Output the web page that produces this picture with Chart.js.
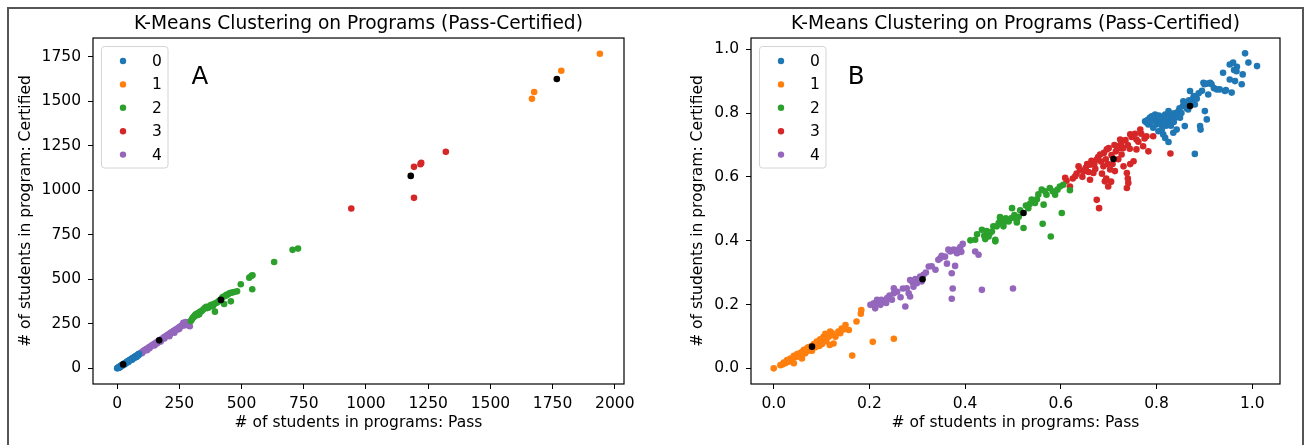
<!DOCTYPE html>
<html>
<head>
<meta charset="utf-8">
<script src="https://cdn.jsdelivr.net/npm/chart.js@4.4.1/dist/chart.umd.min.js"></script>
<style>
  html, body { margin: 0; padding: 0; background: #fff; }
  #page { position: relative; width: 1309px; height: 445px; overflow: hidden; }
  #chartA { position: absolute; left: 0; top: 0; }
  #chartB { position: absolute; left: 655px; top: 0; }
  #frame { position: absolute; left: 7px; top: 7px; width: 1297px; height: 470px;
           border: 2px solid #555; box-sizing: border-box; }
</style>
</head>
<body>
<div id="page">
  <canvas id="chartA" width="655" height="445"></canvas>
  <canvas id="chartB" width="654" height="445"></canvas>
  <div id="frame"></div>
</div>

<script>
const CLUSTERS = ['0', '1', '2', '3', '4'];
const COLORS = ['#1f77b4', '#ff7f0e', '#2ca02c', '#d62728', '#9467bd'];
const TITLE = 'K-Means Clustering on Programs (Pass-Certified)';
const X_LABEL = '# of students in programs: Pass';
const Y_LABEL = '# of students in program: Certified';

const aXTicks = [0, 250, 500, 750, 1000, 1250, 1500, 1750, 2000];
const aYTicks = [0, 250, 500, 750, 1000, 1250, 1500, 1750];
const bTicks = [0, 0.2, 0.4, 0.6, 0.8, 1.0];

// Panel A - raw counts [pass, certified]
const a0 = [[0,0],[2,1],[4,3],[5,5],[7,6],[9,8],[10,4],[11,10],[12,7],[13,11],[15,14],[17,15],[19,17],[20,15],[21,19],
  [24,21],[26,24],[28,25],[30,22],[31,28],[33,30],[35,29],[36,33],[38,34],[41,38],[44,40],[45,35],[46,42],[47,40],
  [49,45],[52,47],[55,50],[56,48],[58,52],[60,48],[61,56],[64,58],[66,57],[67,61],[70,64],[70,60],[73,66],[75,65],
  [76,69],[78,64],[80,73],[84,77],[85,72],[88,81]];
const a1 = [[1940,1766],[1785,1670],[1676,1551],[1667,1513]];
const a2 = [[296,266],[300,274],[303,281],[306,287],[309,290],[312,296],[315,300],[318,304],[321,298],[324,308],
  [327,312],[330,303],[334,318],[340,322],[346,330],[352,338],[358,345],[362,338],[368,342],[374,352],[379,356],
  [385,350],[390,362],[393,318],[398,366],[404,372],[410,379],[416,386],[422,396],[426,402],[430,361],[436,408],
  [440,412],[446,416],[453,423],[457,376],[462,425],[470,428],[482,432],[497,472],[531,509],[540,520],[544,522],
  [543,444],[631,597],[705,665],[727,672]];
const a3 = [[941,897],[1193,1131],[1219,1146],[1222,1153],[1193,957],[1321,1215]];
const a4 = [[90,82],[95,86],[100,92],[100,85],[104,95],[108,100],[112,102],[116,107],[120,110],[120,102],[124,112],
  [128,118],[130,112],[132,121],[136,124],[140,129],[144,131],[148,136],[150,128],[152,139],[156,142],[160,148],
  [160,140],[164,150],[168,155],[172,157],[175,150],[176,162],[180,165],[184,168],[188,174],[190,168],[192,176],
  [196,181],[200,184],[204,187],[208,192],[210,186],[210,180],[212,195],[216,199],[220,203],[224,206],[228,211],
  [230,200],[232,213],[236,218],[240,221],[244,225],[245,218],[248,229],[250,222],[252,233],[256,236],[260,241],
  [264,244],[266,256],[268,250],[270,240],[272,255],[276,260],[280,258],[284,250],[288,242],[292,236]];
const aCentroids = [[24,22],[1767,1624],[417,384],[1180,1080],[169,157]];

// Panel B - normalised values
const b0 = [[0.776,0.774],[0.779,0.770],[0.781,0.778],[0.783,0.764],[0.786,0.785],[0.788,0.772],[0.790,0.790],
  [0.793,0.754],[0.795,0.778],[0.797,0.795],[0.798,0.785],[0.800,0.764],[0.802,0.775],[0.804,0.743],[0.805,0.792],
  [0.807,0.780],[0.809,0.766],[0.811,0.748],[0.812,0.784],[0.814,0.733],[0.815,0.770],[0.818,0.722],[0.818,0.795],
  [0.820,0.760],[0.821,0.790],[0.823,0.778],[0.825,0.806],[0.825,0.709],[0.826,0.790],[0.828,0.769],[0.830,0.760],
  [0.832,0.774],[0.833,0.798],[0.835,0.738],[0.836,0.772],[0.839,0.785],[0.840,0.800],[0.842,0.748],[0.844,0.790],
  [0.846,0.806],[0.848,0.815],[0.849,0.785],[0.852,0.800],[0.855,0.822],[0.856,0.837],[0.859,0.759],[0.860,0.830],
  [0.863,0.815],[0.866,0.811],[0.868,0.840],[0.870,0.869],[0.874,0.835],[0.877,0.848],[0.878,0.853],[0.880,0.672],
  [0.880,0.827],[0.884,0.845],[0.888,0.862],[0.891,0.759],[0.892,0.748],[0.895,0.870],[0.898,0.895],[0.900,0.890],
  [0.901,0.806],[0.905,0.780],[0.905,0.892],[0.908,0.858],[0.912,0.895],[0.915,0.890],[0.920,0.878],[0.926,0.874],
  [0.932,0.874],[0.939,0.926],[0.943,0.869],[0.945,0.872],[0.953,0.905],[0.953,0.952],[0.957,0.864],[0.960,0.958],
  [0.962,0.935],[0.964,0.900],[0.967,0.931],[0.968,0.945],[0.978,0.890],[0.980,0.921],[0.985,0.987],[0.992,0.958],
  [1.010,0.947]];
const b1 = [[0.000,0.000],[0.014,0.010],[0.018,0.012],[0.021,0.018],[0.024,0.016],[0.026,0.020],[0.028,0.026],
  [0.031,0.021],[0.033,0.025],[0.035,0.031],[0.038,0.030],[0.042,0.039],[0.042,0.016],[0.045,0.035],[0.048,0.040],
  [0.049,0.045],[0.052,0.037],[0.054,0.044],[0.056,0.049],[0.059,0.031],[0.060,0.052],[0.063,0.058],[0.066,0.047],
  [0.067,0.055],[0.070,0.063],[0.072,0.066],[0.073,0.055],[0.077,0.068],[0.080,0.055],[0.083,0.070],[0.084,0.076],
  [0.087,0.066],[0.090,0.084],[0.092,0.080],[0.094,0.076],[0.095,0.070],[0.097,0.091],[0.099,0.088],[0.101,0.076],
  [0.104,0.099],[0.104,0.084],[0.106,0.092],[0.108,0.108],[0.110,0.085],[0.112,0.100],[0.115,0.099],[0.117,0.073],
  [0.118,0.115],[0.120,0.105],[0.122,0.110],[0.125,0.078],[0.129,0.099],[0.135,0.115],[0.139,0.110],[0.142,0.125],
  [0.146,0.122],[0.150,0.136],[0.157,0.120],[0.164,0.040],[0.173,0.147],[0.182,0.171],[0.183,0.183],[0.207,0.083],
  [0.251,0.093]];
const b2 = [[0.411,0.401],[0.421,0.403],[0.425,0.420],[0.435,0.434],[0.440,0.415],[0.442,0.405],[0.445,0.430],
  [0.449,0.413],[0.452,0.424],[0.456,0.429],[0.459,0.445],[0.463,0.398],[0.463,0.403],[0.466,0.445],[0.470,0.455],
  [0.473,0.474],[0.473,0.471],[0.480,0.455],[0.480,0.445],[0.485,0.470],[0.487,0.466],[0.491,0.460],[0.497,0.471],
  [0.498,0.502],[0.503,0.480],[0.508,0.464],[0.508,0.457],[0.512,0.475],[0.515,0.495],[0.522,0.440],[0.527,0.510],
  [0.532,0.502],[0.535,0.515],[0.539,0.529],[0.546,0.518],[0.550,0.530],[0.553,0.545],[0.560,0.560],[0.562,0.453],
  [0.564,0.513],[0.567,0.555],[0.570,0.544],[0.577,0.565],[0.579,0.413],[0.583,0.555],[0.588,0.544],[0.593,0.560],
  [0.598,0.570],[0.602,0.487],[0.605,0.575],[0.619,0.558]];
const b3 = [[0.609,0.597],[0.612,0.588],[0.619,0.570],[0.625,0.595],[0.630,0.602],[0.633,0.610],[0.637,0.633],
  [0.640,0.622],[0.645,0.600],[0.647,0.617],[0.652,0.628],[0.655,0.640],[0.658,0.615],[0.661,0.638],[0.661,0.591],
  [0.664,0.650],[0.668,0.612],[0.670,0.640],[0.672,0.625],[0.675,0.654],[0.675,0.528],[0.678,0.662],[0.680,0.502],
  [0.682,0.670],[0.684,0.648],[0.686,0.610],[0.689,0.633],[0.690,0.675],[0.692,0.586],[0.694,0.655],[0.695,0.595],
  [0.696,0.686],[0.698,0.640],[0.699,0.570],[0.700,0.690],[0.703,0.623],[0.705,0.585],[0.706,0.668],[0.708,0.640],
  [0.712,0.700],[0.713,0.618],[0.715,0.680],[0.717,0.696],[0.720,0.655],[0.722,0.690],[0.724,0.717],[0.726,0.705],
  [0.727,0.670],[0.730,0.690],[0.731,0.633],[0.735,0.715],[0.738,0.612],[0.738,0.565],[0.740,0.700],[0.740,0.595],
  [0.741,0.581],[0.744,0.688],[0.745,0.733],[0.745,0.640],[0.748,0.725],[0.752,0.649],[0.755,0.735],[0.758,0.717],
  [0.758,0.686],[0.762,0.710],[0.766,0.748],[0.768,0.735],[0.772,0.696],[0.775,0.720],[0.779,0.727],[0.783,0.680],
  [0.793,0.727],[0.829,0.673]];
const b4 = [[0.202,0.199],[0.209,0.204],[0.212,0.188],[0.216,0.215],[0.218,0.205],[0.223,0.199],[0.225,0.215],
  [0.230,0.209],[0.235,0.205],[0.237,0.220],[0.242,0.228],[0.247,0.215],[0.251,0.235],[0.251,0.251],[0.258,0.240],
  [0.265,0.223],[0.270,0.250],[0.275,0.194],[0.278,0.251],[0.282,0.235],[0.285,0.225],[0.285,0.277],[0.290,0.270],
  [0.292,0.256],[0.296,0.280],[0.299,0.267],[0.306,0.288],[0.309,0.272],[0.313,0.293],[0.318,0.300],[0.324,0.319],
  [0.330,0.320],[0.338,0.309],[0.344,0.340],[0.348,0.345],[0.351,0.353],[0.358,0.350],[0.362,0.328],[0.365,0.372],
  [0.369,0.366],[0.372,0.298],[0.372,0.218],[0.374,0.250],[0.376,0.372],[0.379,0.321],[0.380,0.368],[0.383,0.361],
  [0.386,0.372],[0.390,0.380],[0.392,0.365],[0.395,0.390],[0.421,0.366],[0.428,0.356],[0.435,0.246],[0.500,0.250]];
const bCentroids = [[0.870,0.822],[0.080,0.068],[0.522,0.487],[0.710,0.656],[0.311,0.279]];

Chart.defaults.font.family = '"DejaVu Sans", sans-serif';
Chart.defaults.color = '#000';

const toXY = pts => pts.map(p => ({ x: p[0], y: p[1] }));

// spines, legend box and the panel letter
const panelDecor = {
  id: 'panelDecor',
  afterDatasetsDraw(chart) {
    const { ctx, chartArea: a } = chart;
    ctx.save();
    ctx.strokeStyle = '#000';
    ctx.lineWidth = 1.2;
    ctx.strokeRect(a.left, a.top, a.right - a.left, a.bottom - a.top);
    ctx.restore();
  },
  afterDraw(chart, args, opts) {
    const { ctx, chartArea: a, scales } = chart;
    const bx = a.left + 8.5, by = a.top + 8.5;
    ctx.save();
    ctx.beginPath();
    ctx.roundRect(bx, by, 66.5, 121.5, 3);
    ctx.fillStyle = 'rgba(255,255,255,0.8)';
    ctx.fill();
    ctx.strokeStyle = '#d4d4d4';
    ctx.lineWidth = 1;
    ctx.stroke();
    ctx.font = '15.5px "DejaVu Sans"';
    ctx.textBaseline = 'middle';
    ctx.textAlign = 'left';
    CLUSTERS.forEach((name, i) => {
      const ds = chart.data.datasets[i];
      const cy = by + 14.5 + i * 23.4;
      ctx.beginPath();
      ctx.arc(bx + 21.5, cy, 3.2, 0, Math.PI * 2);
      ctx.fillStyle = ds.backgroundColor;
      ctx.fill();
      ctx.fillStyle = '#000';
      ctx.fillText(ds.label, bx + 50.5, cy + 1);
    });
    ctx.font = '24.5px "DejaVu Sans"';
    ctx.textAlign = 'center';
    ctx.fillText(opts.tag, scales.x.getPixelForValue(opts.tagAt[0]), scales.y.getPixelForValue(opts.tagAt[1]));
    ctx.restore();
  }
};

function makeChart(id, clusters, centroids, cfg) {
  const datasets = clusters.map((pts, i) => ({
    label: CLUSTERS[i],
    data: toXY(pts),
    backgroundColor: COLORS[i],
    pointRadius: 3.3,
    pointBorderWidth: 0,
    order: 1
  }));
  datasets.push({
    label: 'centroids',
    data: toXY(centroids),
    backgroundColor: '#000',
    pointRadius: 3.3,
    pointBorderWidth: 0,
    order: 0
  });

  const tickFont = { size: 15.5 };
  return new Chart(document.getElementById(id), {
    type: 'scatter',
    data: { datasets },
    plugins: [panelDecor],
    options: {
      responsive: false,
      animation: false,
      events: [],
      layout: { padding: { left: 0, right: cfg.rightPad, top: 0, bottom: 0 } },
      scales: {
        x: {
          type: 'linear',
          min: cfg.xMin, max: cfg.xMax,
          afterBuildTicks: s => { s.ticks = cfg.xTicks.map(v => ({ value: v })); },
          afterFit: s => { s.height = 61; },
          border: { display: false },
          grid: { drawOnChartArea: false, drawTicks: true, tickLength: 5, color: '#000' },
          ticks: { padding: 6, font: tickFont, maxRotation: 0, autoSkip: false, callback: cfg.fmt },
          title: { display: true, text: X_LABEL, font: tickFont, padding: { top: 0, bottom: 12.3 } }
        },
        y: {
          type: 'linear',
          min: cfg.yMin, max: cfg.yMax,
          afterBuildTicks: s => { s.ticks = cfg.yTicks.map(v => ({ value: v })); },
          afterFit: s => { s.width = cfg.yWidth; },
          border: { display: false },
          grid: { drawOnChartArea: false, drawTicks: true, tickLength: 5, color: '#000' },
          ticks: { padding: 7, font: tickFont, autoSkip: false, callback: cfg.fmt },
          title: { display: true, text: Y_LABEL, font: tickFont, padding: { top: cfg.yTitlePad, bottom: 0 } }
        }
      },
      plugins: {
        legend: { display: false },
        tooltip: { enabled: false },
        title: {
          display: true, text: TITLE, fullSize: false,
          font: { size: 18.6, weight: 'normal' },
          padding: { top: 12.6, bottom: 3.1 }
        },
        panelDecor: { tag: cfg.tag, tagAt: cfg.tagAt }
      }
    }
  });
}

makeChart('chartA', [a0, a1, a2, a3, a4], aCentroids, {
  xMin: -97, xMax: 2037, xTicks: aXTicks,
  yMin: -88, yMax: 1854, yTicks: aYTicks,
  yWidth: 93, yTitlePad: 17, rightPad: 31,
  fmt: v => String(v),
  tag: 'A', tagAt: [333, 1629]
});

makeChart('chartB', [b0, b1, b2, b3, b4], bCentroids, {
  xMin: -0.0475, xMax: 1.058, xTicks: bTicks,
  yMin: -0.049, yMax: 1.035, yTicks: bTicks,
  yWidth: 96, yTitlePad: 34, rightPad: 29,
  fmt: v => v.toFixed(1),
  tag: 'B', tagAt: [0.172, 0.91]
});
</script>
</body>
</html>
